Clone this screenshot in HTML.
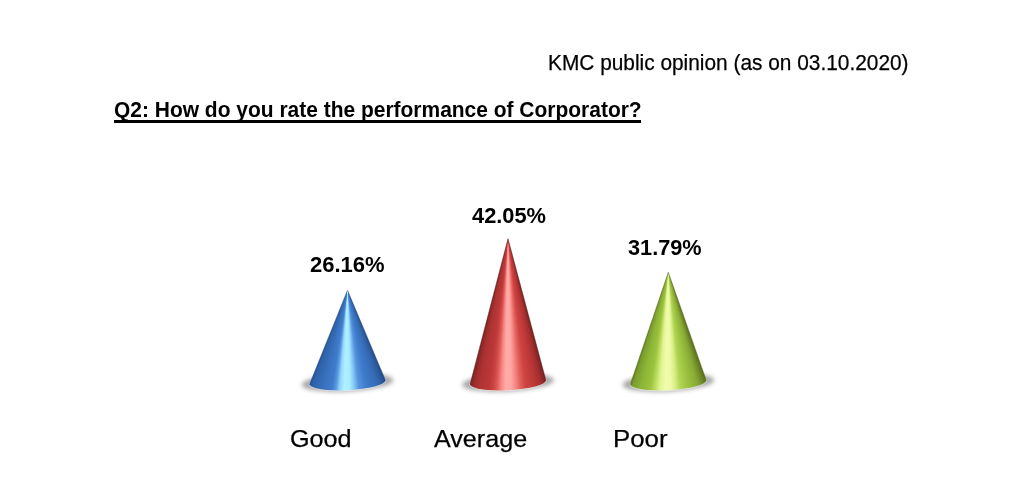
<!DOCTYPE html>
<html><head><meta charset="utf-8">
<style>
html,body{margin:0;padding:0;background:#fff;}
body{width:1024px;height:491px;position:relative;overflow:hidden;font-family:"Liberation Sans",sans-serif;color:#000;}
.t{position:absolute;white-space:nowrap;line-height:1;transform-origin:0 0;}
svg{position:absolute;left:0;top:0;}
.cone{position:absolute;left:0;top:0;width:1024px;height:491px;}
</style></head>
<body>
<div class="t" id="kmc" style="left:547.50px;top:51.94px;font-size:21.8px;font-weight:normal;transform:scaleX(0.9568);-webkit-text-stroke:0.25px #000;">KMC public opinion (as on 03.10.2020)</div>
<div class="t" id="q2" style="left:113.50px;top:98.54px;font-size:21.8px;font-weight:bold;transform:scaleX(0.9618);-webkit-text-stroke:0px #000;">Q2: How do you rate the performance of Corporator?</div>
<div class="t" id="p1" style="left:310.20px;top:253.94px;font-size:21.8px;font-weight:bold;transform:scaleX(1.0091);-webkit-text-stroke:0px #000;">26.16%</div>
<div class="t" id="p2" style="left:471.80px;top:204.84px;font-size:21.8px;font-weight:bold;transform:scaleX(1.0010);-webkit-text-stroke:0px #000;">42.05%</div>
<div class="t" id="p3" style="left:628.40px;top:236.84px;font-size:21.8px;font-weight:bold;transform:scaleX(0.9953);-webkit-text-stroke:0px #000;">31.79%</div>
<div class="t" id="l1" style="left:289.70px;top:427.13px;font-size:24.4px;font-weight:normal;transform:scaleX(1.0325);-webkit-text-stroke:0.25px #000;">Good</div>
<div class="t" id="l2" style="left:434.40px;top:427.13px;font-size:24.4px;font-weight:normal;transform:scaleX(1.0299);-webkit-text-stroke:0.25px #000;">Average</div>
<div class="t" id="l3" style="left:613.00px;top:427.33px;font-size:24.4px;font-weight:normal;transform:scaleX(1.0577);-webkit-text-stroke:0.25px #000;">Poor</div>
<div style="position:absolute;left:114px;top:119.8px;width:527px;height:2.8px;background:#000;"></div>
<svg width="1024" height="491" viewBox="0 0 1024 491">
<defs><filter id="blur1" x="-50%" y="-50%" width="200%" height="200%"><feGaussianBlur stdDeviation="0.6"/></filter><filter id="blur" x="-50%" y="-50%" width="200%" height="200%"><feGaussianBlur stdDeviation="2.3"/></filter></defs>
<ellipse cx="347.5" cy="382.5" rx="46" ry="9" transform="rotate(-3.0 347.5 382.2)" fill="#808080" opacity="0.68" filter="url(#blur)"/><ellipse cx="347.5" cy="382.2" rx="38.8" ry="8.8" transform="rotate(-3.0 347.5 382.2)" fill="#fff" opacity="0.55" filter="url(#blur1)"/>
<ellipse cx="508" cy="382.5" rx="46" ry="9" transform="rotate(-3.0 508 382.2)" fill="#808080" opacity="0.68" filter="url(#blur)"/><ellipse cx="508" cy="382.2" rx="38.8" ry="8.8" transform="rotate(-3.0 508 382.2)" fill="#fff" opacity="0.55" filter="url(#blur1)"/>
<ellipse cx="668.3" cy="382.5" rx="46" ry="9" transform="rotate(-3.0 668.3 382.2)" fill="#808080" opacity="0.68" filter="url(#blur)"/><ellipse cx="668.3" cy="382.2" rx="38.8" ry="8.8" transform="rotate(-3.0 668.3 382.2)" fill="#fff" opacity="0.55" filter="url(#blur1)"/>
</svg>
<div class="cone" style="background:conic-gradient(from 157.56deg at 347.5px 290.2px, #244e8c 0.00deg, #2e5ea2 2.24deg, #366cb6 5.39deg, #3e7cce 11.67deg, #5892dc 15.71deg, #80c4f6 18.40deg, #a8ecff 21.10deg, #b0f0ff 24.24deg, #92d6fc 26.93deg, #5a98e2 29.18deg, #407ccc 31.42deg, #3870bc 36.81deg, #2e62aa 42.64deg, #244e8c 44.89deg, #244e8c 360deg);clip-path:path('M 347.5 290.2 L 309.55 384.19 A 38 8 -3.0 0 0 385.45 380.21 Z');"></div>
<div class="cone" style="background:conic-gradient(from 165.18deg at 508px 238.6px, #762222 0.00deg, #a42e2e 2.08deg, #be3838 4.74deg, #ce4442 8.00deg, #e2625e 10.08deg, #f68682 11.86deg, #ffa8a4 13.64deg, #ffaca8 15.71deg, #f88682 17.49deg, #e05c58 18.97deg, #ca4444 20.45deg, #bc3838 22.23deg, #ae3232 26.09deg, #9a2c2c 27.87deg, #742222 29.64deg, #742222 360deg);clip-path:path('M 508 238.6 L 470.05 384.19 A 38 8 -3.0 0 0 545.95 380.21 Z');"></div>
<div class="cone" style="background:conic-gradient(from 160.94deg at 668.3px 272.2px, #5a7020 0.00deg, #6e8a28 1.91deg, #88aa34 4.57deg, #9cc240 9.15deg, #b0d454 12.96deg, #d4ec80 15.25deg, #eefaa8 17.91deg, #f0fcac 20.58deg, #e0f490 23.25deg, #bcdc60 25.54deg, #9cc440 27.82deg, #8cb436 32.40deg, #7a9e2c 36.21deg, #5e7a20 38.12deg, #5e7a20 360deg);clip-path:path('M 668.3 272.2 L 630.35 384.19 A 38 8 -3.0 0 0 706.25 380.21 Z');"></div>
<svg width="1024" height="491" viewBox="0 0 1024 491">
<path d="M 309.55 384.19 L 347.5 290.2 L 385.45 380.21" fill="none" stroke="#1a3a6a" stroke-width="0.8" stroke-opacity="0.5" stroke-linejoin="round"/>
<path d="M 470.05 384.19 L 508 238.6 L 545.95 380.21" fill="none" stroke="#5a1818" stroke-width="0.8" stroke-opacity="0.5" stroke-linejoin="round"/>
<path d="M 630.35 384.19 L 668.3 272.2 L 706.25 380.21" fill="none" stroke="#4a5a1a" stroke-width="0.8" stroke-opacity="0.5" stroke-linejoin="round"/>
</svg>
</body></html>
